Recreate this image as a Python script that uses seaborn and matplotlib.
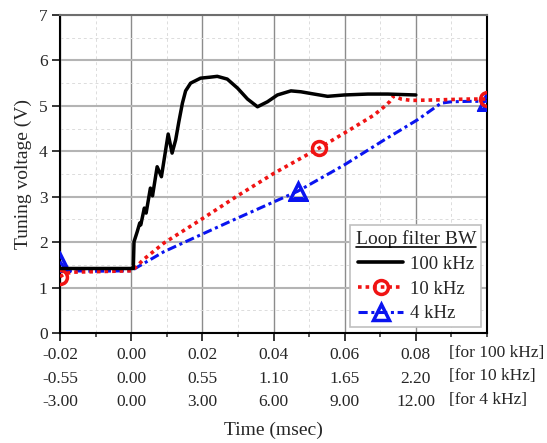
import numpy as np
import pandas as pd
import matplotlib.pyplot as plt
from matplotlib.lines import Line2D
from matplotlib.path import Path
from matplotlib.ticker import MultipleLocator
import seaborn as sns

# 100 kHz loop filter, time in msec
t_100k = [-0.02, -0.01, 0.0, 0.0006, 0.0008, 0.0017, 0.0024, 0.0027, 0.0037, 0.0042,
          0.0054, 0.0060, 0.0073, 0.0085, 0.0104, 0.0115, 0.0125, 0.0134, 0.0144, 0.0153,
          0.0167, 0.0195, 0.0220, 0.0242, 0.0270, 0.0299, 0.0327, 0.0355, 0.0383, 0.0411,
          0.0449, 0.0477, 0.0514, 0.0552, 0.0599, 0.0665, 0.0721, 0.0759, 0.0800]
v_100k = [1.42, 1.42, 1.42, 1.42, 2.01, 2.23, 2.42, 2.38, 2.75, 2.64,
          3.19, 3.02, 3.66, 3.44, 4.38, 3.96, 4.25, 4.65, 5.06, 5.33,
          5.50, 5.61, 5.63, 5.65, 5.59, 5.39, 5.15, 4.98, 5.09, 5.24,
          5.33, 5.31, 5.26, 5.21, 5.24, 5.26, 5.26, 5.25, 5.24]

# 10 kHz loop filter, its own time axis (msec)
t_10k = [-0.55, -0.509, -0.446, -0.275, 0.008, 0.096, 0.253, 0.536, 0.822, 1.106,
         1.389, 1.452, 1.647, 1.878, 1.955, 1.997, 2.030, 2.087, 2.164, 2.343, 2.602, 2.75]
v_10k = [1.24, 1.31, 1.34, 1.35, 1.37, 1.62, 1.98, 2.49, 3.02, 3.52,
         3.97, 4.07, 4.40, 4.80, 4.98, 5.09, 5.22, 5.15, 5.12, 5.13, 5.15, 5.15]

# 4 kHz loop filter, its own time axis (msec)
t_4k = [-3.0, -2.85, -2.64, -1.5, 0.0, 1.38, 2.925, 4.485, 6.03, 7.02,
        8.985, 10.665, 12.09, 13.065, 13.5, 14.25, 15.0]
v_4k = [1.57, 1.46, 1.37, 1.36, 1.37, 1.79, 2.16, 2.53, 2.89, 3.12,
        3.70, 4.25, 4.70, 5.06, 5.09, 5.10, 5.10]

row_100k = ['-0.02', '0.00', '0.02', '0.04', '0.06', '0.08']
row_10k = ['-0.55', '0.00', '0.55', '1.10', '1.65', '2.20']
row_4k = ['-3.00', '0.00', '3.00', '6.00', '9.00', '12.00']
row_names = ['[for 100 kHz]', '[for 10 kHz]', '[for 4 kHz]']
series_names = ['100 kHz', '10 kHz', '4 kHz']

# all three time axes are drawn on the 100 kHz positions
scale_10k = 0.02 / 0.55
scale_4k = 0.02 / 3.00

sns.set_style('white')
plt.rcParams['font.family'] = ['Liberation Serif', 'DejaVu Serif']

fig = plt.figure(figsize=(5.47, 4.43), dpi=100)
ax = fig.add_axes([0.1097, 0.2483, 0.7806, 0.7178])

df_4k = pd.DataFrame({'t': np.array(t_4k) * scale_4k, 'v': v_4k})
df_10k = pd.DataFrame({'t': np.array(t_10k) * scale_10k, 'v': v_10k})
df_100k = pd.DataFrame({'t': t_100k, 'v': v_100k})

blue = '#0a14f0'
red = '#f01414'
blue_ls = (0, (3, 1.2, 1, 1.2))
red_ls = (0, (1, 1.1))

sns.lineplot(data=df_4k, x='t', y='v', ax=ax, color=blue, lw=2.2, ls=blue_ls,
             estimator=None, errorbar=None, marker='^', ms=11, mew=2.5, mfc='none',
             mec=blue, markevery=[0, 9, len(t_4k) - 1], zorder=3)
sns.lineplot(data=df_10k, x='t', y='v', ax=ax, color=red, lw=2.6, ls=red_ls,
             estimator=None, errorbar=None, marker='o', ms=10, mew=2.5, mfc='none',
             mec=red, markevery=[0, 11, len(t_10k) - 1], zorder=4)
sns.lineplot(data=df_100k, x='t', y='v', ax=ax, color='black', lw=2.5,
             estimator=None, errorbar=None, zorder=5)
# a real clip path (not a rectangle) so the edge markers get cut at the frame
frame_path = Path([(0, 0), (1, 0), (1, 1), (0, 1), (0, 0)], closed=True)
for line in ax.lines:
    line.set_clip_path(frame_path, ax.transAxes)

ax.set_xlim(-0.02, 0.10)
ax.set_ylim(0, 7)
ax.set_xticks([-0.02, 0.0, 0.02, 0.04, 0.06, 0.08])
ax.set_xticklabels([f'{a}\n{b}\n{c}' for a, b, c in zip(row_100k, row_10k, row_4k)],
                   linespacing=1.65)
ax.xaxis.set_minor_locator(MultipleLocator(0.01))
ax.set_yticks(range(0, 8))
ax.yaxis.set_minor_locator(MultipleLocator(0.5))

ax.tick_params(axis='x', which='major', direction='out', length=6, width=1.3,
               pad=4, labelsize=12.5, bottom=True)
ax.tick_params(axis='x', which='minor', direction='out', length=3, width=1.1, bottom=True)
ax.tick_params(axis='y', which='major', direction='out', length=6, width=1.3,
               pad=3, labelsize=12.5, left=True)
ax.tick_params(axis='y', which='minor', length=0)

ax.xaxis.grid(True, which='major', color='#8c8c8c', lw=1.0)
ax.yaxis.grid(True, which='major', color='#b4b4b4', lw=1.5)
ax.grid(True, which='minor', color='#dcdcdc', lw=0.7, ls=(0, (3, 3)))
ax.set_axisbelow(True)

for side in ['left', 'bottom', 'right']:
    ax.spines[side].set_color('black')
    ax.spines[side].set_linewidth(1.5)
ax.spines['top'].set_color('#6e6e6e')
ax.spines['top'].set_linewidth(1.5)

# bracketed labels that name each row of the time axis
ax.annotate('\n'.join(row_names), xy=(0.0893, 0), xycoords=('data', 'axes fraction'),
            xytext=(0, -(6 * 0.72 + 4)), textcoords='offset points',
            ha='left', va='top', fontsize=12.5, linespacing=1.65, annotation_clip=False)

ax.set_xlabel('Time (msec)', fontsize=14, labelpad=8)
ax.set_ylabel('Tuning voltage (V)', fontsize=14, labelpad=5)

handles = [
    Line2D([], [], color='black', lw=2.6),
    Line2D([], [], color=red, lw=2.6, ls=red_ls, marker='o', ms=10, mew=2.5, mfc='none'),
    Line2D([], [], color=blue, lw=2.2, ls=blue_ls, marker='^', ms=11, mew=2.5, mfc='none'),
]
leg = ax.legend(handles, series_names, title='Loop filter BW',
                loc='lower right', fontsize=13.5, title_fontsize=14, frameon=True,
                fancybox=False, framealpha=1, edgecolor='#c0c0c0', handlelength=2.4,
                handletextpad=0.35, labelspacing=0.4, borderpad=0.28, borderaxespad=0.3)
leg.get_frame().set_linewidth(1.2)
leg.set_zorder(10)

# underline the legend title
fig.canvas.draw()
bb = leg.get_title().get_window_extent().transformed(fig.transFigure.inverted())
fig.add_artist(Line2D([bb.x0, bb.x1], [bb.y0 + 0.002, bb.y0 + 0.002], color='black',
                      lw=1.2, transform=fig.transFigure, zorder=11))

fig.savefig('out.png', dpi=100)
